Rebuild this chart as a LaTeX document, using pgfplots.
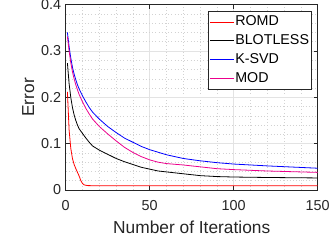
\documentclass[border=0pt]{standalone}
\usepackage{pgfplots}
\pgfplotsset{compat=1.18}
\usepackage{fontspec}
\setmainfont{Liberation Sans}
\definecolor{axgray}{RGB}{38,38,38}
\begin{document}
\begin{tikzpicture}
\useasboundingbox (0,0) rectangle (249.75pt,184.5pt);
\begin{axis}[
  at={(49.3pt,42pt)}, anchor=south west,
  scale only axis, width=189pt, height=139pt,
  xmin=0, xmax=150, ymin=0, ymax=0.4,
  xtick={0,50,100,150}, ytick={0,0.1,0.2,0.3,0.4},
  yticklabels={0,0.1,0.2,0.3,0.4},
  minor x tick num=4, minor y tick num=4,
  grid=both,
  major grid style={gray!22, line width=0.5pt},
  minor grid style={gray!35, dotted, line width=0.4pt},
  tick align=inside, major tick length=3pt, minor tick length=0pt,
  tick style={axgray, line width=0.5pt},
  axis line style={axgray, line width=0.6pt},
  ticklabel style={font=\fontsize{10.8}{12}\selectfont, text=axgray},
  xticklabel style={yshift=-4.3pt},
  /pgf/number format/assume math mode=true,
  xlabel={Number of Iterations}, ylabel={Error},
  label style={font=\fontsize{13}{15}\selectfont, text=axgray},
  xlabel style={at={(axis description cs:0.5,-0.1403)}, anchor=north},
  ylabel style={at={(axis description cs:-0.1058,0.5)}, anchor=south, rotate=0},
  legend style={at={(0.976,0.966)}, anchor=north east, draw=axgray, fill=white,
    font=\fontsize{10.7}{12}\selectfont, row sep=0pt, column sep=0pt,
    inner xsep=1pt, inner ysep=1pt,
    nodes={inner xsep=0.8pt, inner ysep=2pt, text height=7.8pt, text depth=2.3pt}},
  legend cell align=left,
  legend image code/.code={\draw[#1] (0pt,0pt) -- (18pt,0pt);},
]
\addplot[red, line width=0.6pt] coordinates {
(1,0.212) (2,0.13) (3,0.09) (4,0.068) (5,0.055) (6,0.046) (7,0.038) (8,0.03)
(9,0.02) (10,0.014) (11,0.011) (13,0.0095) (20,0.009) (150,0.009)};
\addlegendentry{ROMD}
\addplot[black, line width=0.6pt] coordinates {
(1,0.274) (2,0.23) (3,0.2) (4,0.178) (5,0.162) (6,0.15) (7,0.14) (8,0.132)
(10,0.122) (12,0.112) (14,0.103) (16,0.095) (20,0.086) (25,0.077) (30,0.068)
(35,0.061) (40,0.055) (45,0.049) (50,0.045) (55,0.041) (60,0.039) (70,0.035)
(80,0.031) (90,0.029) (100,0.028) (120,0.027) (150,0.026)};
\addlegendentry{BLOTLESS}
\addplot[blue, line width=0.6pt] coordinates {
(1,0.34) (2,0.31) (3,0.285) (4,0.265) (5,0.25) (6,0.238) (7,0.227) (8,0.218)
(10,0.203) (12,0.19) (14,0.178) (16,0.168) (20,0.153) (25,0.137) (30,0.124)
(35,0.112) (40,0.103) (45,0.094) (50,0.087) (60,0.076) (70,0.068) (80,0.063)
(90,0.059) (100,0.056) (120,0.052) (150,0.047)};
\addlegendentry{K-SVD}
\addplot[magenta, line width=0.6pt] coordinates {
(1,0.331) (2,0.3) (3,0.275) (4,0.255) (5,0.24) (6,0.227) (7,0.216) (8,0.206)
(10,0.19) (12,0.176) (14,0.164) (16,0.153) (20,0.137) (25,0.121) (30,0.106)
(35,0.092) (40,0.081) (45,0.072) (50,0.065) (55,0.06) (60,0.057) (70,0.054)
(80,0.05) (90,0.046) (100,0.044) (120,0.041) (150,0.038)};
\addlegendentry{MOD}
\end{axis}
\end{tikzpicture}
\end{document}
